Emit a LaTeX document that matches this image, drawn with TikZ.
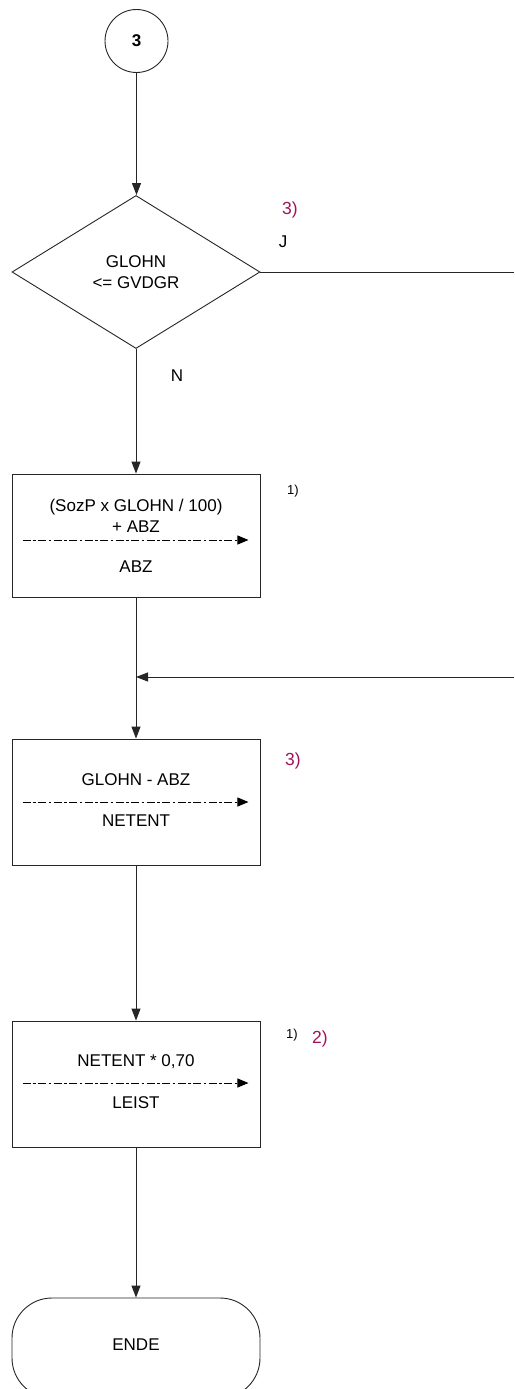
\documentclass[tikz,border=0pt]{standalone}
\usepackage{fontspec}
\setmainfont{Liberation Sans}
\usetikzlibrary{shapes.geometric,arrows.meta}
\definecolor{notecol}{RGB}{160,20,90}
\begin{document}
\begin{tikzpicture}[x=1pt,y=-1pt,
  every node/.style={font=\fontsize{17}{21}\selectfont, text=black},
  shapeline/.style={draw=black!85, line width=0.9pt},
  flow/.style={draw=black!85, line width=0.9pt, -{Triangle[length=12pt,width=9pt]}},
  dasharrow/.style={draw=black, line width=0.9pt, dash pattern=on 8pt off 2.5pt on 2.5pt off 2.5pt, -{Triangle[length=11pt,width=9pt]}},
  procbox/.style={shapeline, rectangle, minimum width=248pt, inner sep=0pt},
  note/.style={font=\fontsize{17.5}{20}\selectfont, text=notecol, inner sep=0pt},
  smallnote/.style={font=\fontsize{13}{15}\selectfont, text=black, inner sep=0pt},
  lbl/.style={inner sep=0pt}
]
\clip (0,0) rectangle (514,1389);
\fill[white] (0,0) rectangle (514,1389);

% connector start
\node[shapeline, circle, minimum size=63pt, inner sep=0pt, font=\bfseries\fontsize{17}{21}\selectfont] (c3) at (136.5,41) {3};

% decision
\node[shapeline, diamond, minimum width=248pt, minimum height=153pt, inner sep=0pt, align=center] (d) at (136,272) {GLOHN\\<= GVDGR};
\node[note] (n1) at (290,210) {3)};
\node[lbl] (j) at (283,242) {J};
\node[lbl] (n) at (177,376) {N};
\coordinate (jend) at (514,272);

% box 1
\node[procbox, minimum height=123pt] (b1) at (136,535.5) {};
\node[lbl, align=center] (b1t) at (136,515.5) {(SozP x GLOHN / 100)\\+ ABZ};
\node[lbl] (b1r) at (136,567) {ABZ};
\draw[dasharrow] ([xshift=11pt,yshift=-4.5pt]b1.west) -- ([xshift=-12pt,yshift=-4.5pt]b1.east);
\node[smallnote] (n2) at (293,491) {1)};

% box 2
\node[procbox, minimum height=126pt] (b2) at (136,802) {};
\node[lbl] (b2t) at (136,780) {GLOHN - ABZ};
\node[lbl] (b2r) at (136,821) {NETENT};
\draw[dasharrow] ([xshift=11pt]b2.west) -- ([xshift=-12pt]b2.east);
\node[note] (n3) at (293,761) {3)};

% box 3
\node[procbox, minimum height=126pt] (b3) at (136,1084) {};
\node[lbl] (b3t) at (136,1062) {NETENT * 0,70};
\node[lbl] (b3r) at (136,1103) {LEIST};
\draw[dasharrow] ([xshift=11pt,yshift=1pt]b3.west) -- ([xshift=-12pt,yshift=1pt]b3.east);
\node[smallnote] (n4) at (292,1035) {1)};
\node[note] (n5) at (320,1039) {2)};

% terminator
\node[shapeline, rectangle, rounded corners=40pt, minimum width=248pt, minimum height=100pt, inner sep=0pt] (ende) at (136,1348) {};
\node[lbl] (endet) at (136,1345) {ENDE};

% connectors
\coordinate (loopin) at (514,677);
\draw[flow] (c3.south) -- (c3.south |- d.north);
\draw[shapeline] (d.east) -- (jend);
\draw[flow] (d.south) -- (b1.north);
\draw[flow] (b1.south) -- (b2.north);
\draw[flow] (loopin) -- (b1.south |- loopin);
\draw[flow] (b2.south) -- (b3.north);
\draw[flow] (b3.south) -- (ende.north);
\end{tikzpicture}
\end{document}
